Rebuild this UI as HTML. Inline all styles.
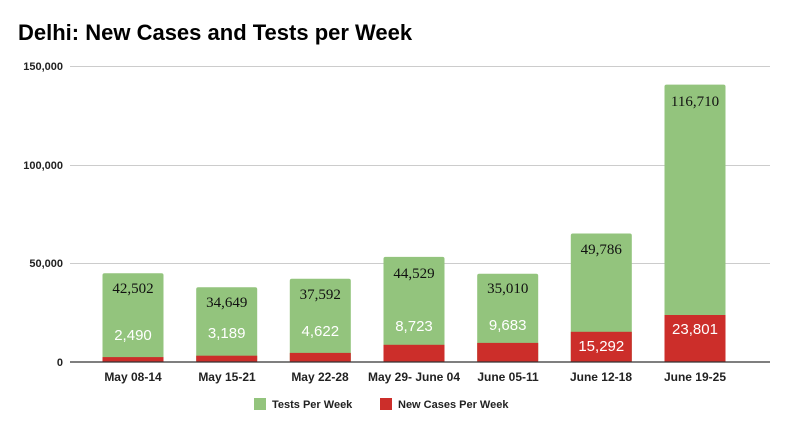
<!DOCTYPE html><html><head><style>body{margin:0;background:#fff}svg{display:block}</style></head><body>
<svg width="797" height="448" xmlns="http://www.w3.org/2000/svg" font-family="Liberation Sans, Arial, sans-serif">
<text x="18" y="40" font-size="22" font-weight="bold" fill="#000">Delhi: New Cases and Tests per Week</text>
<g stroke="#ccc" stroke-width="1">
<line x1="70" x2="770" y1="66.5" y2="66.5"/><line x1="70" x2="770" y1="165.5" y2="165.5"/><line x1="70" x2="770" y1="263.5" y2="263.5"/>
</g>
<g font-size="11" font-weight="bold" text-anchor="end" fill="#222">
<text x="63" y="70">150,000</text><text x="63" y="169">100,000</text><text x="63" y="267">50,000</text><text x="63" y="366">0</text>
</g>
<g fill="#93c47d">
<rect x="102.5" y="273.2" width="61" height="88.8" rx="2"/>
<rect x="196.2" y="287.3" width="61" height="74.7" rx="2"/>
<rect x="289.8" y="278.7" width="61" height="83.3" rx="2"/>
<rect x="383.5" y="256.9" width="61" height="105.1" rx="2"/>
<rect x="477.2" y="273.8" width="61" height="88.2" rx="2"/>
<rect x="570.8" y="233.5" width="61" height="128.5" rx="2"/>
<rect x="664.5" y="84.6" width="61" height="277.4" rx="2"/>
</g>
<g fill="#cc2e2a">
<rect x="102.5" y="357.1" width="61" height="4.9"/>
<rect x="196.2" y="355.7" width="61" height="6.3"/>
<rect x="289.8" y="352.9" width="61" height="9.1"/>
<rect x="383.5" y="344.8" width="61" height="17.2"/>
<rect x="477.2" y="342.9" width="61" height="19.1"/>
<rect x="570.8" y="331.8" width="61" height="30.2"/>
<rect x="664.5" y="315" width="61" height="47"/>
</g>
<g font-size="15" fill="#fff" text-anchor="middle">
<text x="133" y="340">2,490</text><text x="226.7" y="338">3,189</text><text x="320.3" y="336">4,622</text><text x="414" y="331">8,723</text><text x="507.7" y="330">9,683</text><text x="601.3" y="351">15,292</text><text x="695" y="334">23,801</text>
</g>
<g font-size="15" fill="#111" text-anchor="middle" font-family="Liberation Serif, serif">
<text x="133" y="293">42,502</text><text x="226.7" y="307">34,649</text><text x="320.3" y="299">37,592</text><text x="414" y="278">44,529</text><text x="507.7" y="293">35,010</text><text x="601.3" y="254">49,786</text><text x="695" y="106">116,710</text>
</g>
<line x1="70" x2="770" y1="362" y2="362" stroke="#333" stroke-width="1.3"/>
<g font-size="12" font-weight="bold" text-anchor="middle" fill="#222">
<text x="133" y="381">May 08-14</text><text x="227" y="381">May 15-21</text><text x="320" y="381">May 22-28</text><text x="414" y="381">May 29- June 04</text><text x="508" y="381">June  05-11</text><text x="601" y="381">June 12-18</text><text x="695" y="381">June 19-25</text>
</g>
<rect x="254" y="398" width="12" height="12" fill="#93c47d"/>
<text x="272" y="408" font-size="11" font-weight="bold" fill="#222">Tests Per Week</text>
<rect x="380" y="398" width="12" height="12" fill="#cc2e2a"/>
<text x="398" y="408" font-size="11" font-weight="bold" fill="#222">New Cases Per Week</text>
</svg></body></html>
